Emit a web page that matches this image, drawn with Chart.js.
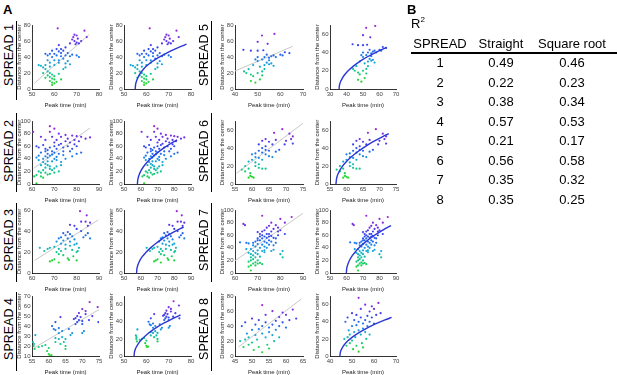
<!DOCTYPE html>
<html>
<head>
<meta charset="utf-8">
<script src="https://cdn.jsdelivr.net/npm/chart.js@4.4.0/dist/chart.umd.min.js"></script>
<style>
  body { margin:0; background:#fff; width:617px; height:375px; position:relative; overflow:hidden;
         font-family:"Liberation Sans", Arial, sans-serif; color:#000; }
  canvas { position:absolute; }
  .t { position:absolute; white-space:nowrap; line-height:1; }
  .rot { position:absolute; white-space:nowrap; line-height:1; font-size:12.5px;
         transform:translate(-50%,-50%) rotate(-90deg); }
  .bar { position:absolute; width:1.5px; background:#000; }
  .cell { position:absolute; width:80px; margin-left:-40px; text-align:center; font-size:13px;
          line-height:1; transform:translateY(-50%); }
</style>
</head>
<body>
<script>
// ---- table (panel B) ----
const tableSpread = [1, 2, 3, 4, 5, 6, 7, 8];
const r2Straight = ['0.49', '0.22', '0.38', '0.57', '0.21', '0.56', '0.35', '0.35'];
const r2Sqrt     = ['0.46', '0.23', '0.34', '0.53', '0.17', '0.58', '0.32', '0.25'];

// ---- scatter data, one list per SPREAD: [peak time (min), distance from the center] ----
const s1 = [[53,30],[54,29],[55,27],[55,20],[56,44],[56,30],[56,25],[56,14],[57,42],[57,36],[57,22],[57,17],
  [58,44],[58,33],[58,28],[58,20],[58,15],[58,10],[59,40],[59,48],[59,18],[59,13],[59,8],[59,5],[60,44],[60,36],
  [60,30],[60,16],[60,12],[60,7],[61,42],[61,50],[61,9],[61.5,76],[62,55],[62,47],[62,36],[62,33],[62,19],[63,50],
  [63,45],[63,41],[63,12],[64,48],[64,38],[64,25],[65,52],[65,42],[65,32],[65,27],[66,45],[66,35],[67,41],[67,31],
  [67,57],[68,43],[68,62],[68.5,65],[69,68],[69,60],[69.5,56],[70,67],[70,58],[70,42],[70.5,63],[71,57],[71,40],
  [72,60],[73.5,73],[74.5,65]];
const s2 = [[60.5,83],[61,12],[62,1],[62,60],[62,42],[62,14],[63,58],[63,45],[63,38],[63,20],[64,75],[64,50],[64,30],
  [64,18],[64,12],[65,62],[65,40],[65,35],[65,22],[65,10],[66,70],[66,56],[66,52],[66,44],[66,32],[66,26],[66,18],
  [67,54],[67,48],[67,42],[67,36],[67,30],[67,15],[68,92],[68,83],[68,58],[68,45],[68,28],[68,24],[68,16],[69,75],
  [69,52],[69,47],[69,36],[69,22],[70,88],[70,66],[70,60],[70,50],[70,40],[70,25],[70,18],[71,70],[71,56],[71,43],
  [71,38],[71,28],[72,80],[72,62],[72,48],[72,20],[73,75],[73,64],[73,35],[73,30],[74,58],[74,52],[74,46],[75,78],
  [75,68],[75,40],[76,72],[76,60],[77,66],[77,52],[78,77],[78,56],[78,44],[79,70],[79,63],[80,76],[80,60],[80,48],
  [81,68],[82,75],[82,50],[84,72],[86,74]];
const s3 = [[63.5,24],[65.5,21],[67,23],[68,11],[68,24],[69,12],[70,25],[70,13],[71,20],[71,30],[72,10],[72,23],
  [72,33],[72,18],[73,21],[73,34],[73,28],[74,38],[74,31],[74,17],[75,36],[75,23],[75,27],[76,39],[76,33],[76,14],
  [76.5,12.5],[77,37],[77,46],[77,30],[77,26],[78,35],[78,22],[78.5,16],[79,32],[79,27],[79,45],[80,42],[80,28],
  [80,20],[80,12],[80.5,21],[81,24],[81.5,59],[82,49],[82,40],[83,34],[84,49],[84,36],[84.5,55],[85,45],[85,38],
  [86,48],[86,33]];
const s4 = [[55.3,24],[55.5,20],[55.8,17],[55.6,22],[56,31],[57,19],[58,20],[59,21],[59.5,15],[60,12],[60.3,10.5],
  [60.8,11],[60,18],[61,40],[61.5,37],[62,44],[62,36],[62,28],[62,24],[63,38],[63,33],[63,27],[63.5,49],[63.5,22],
  [64,35],[64,29],[64.5,24],[65,27],[65,20],[65,17],[66,37],[66.5,31],[67,33],[67.5,47],[68,48],[68,42],[68.5,50],
  [68.5,44],[69,53],[69,46],[69.5,49],[70,57],[70,45],[70,42],[70,33],[70.5,35],[71,55],[71,52],[72,46],[72.2,64],
  [73,50],[74.6,59],[74.8,44]];
const s5 = [[43.7,49],[44,22],[45,20],[46,25],[47,48],[47,18],[47,10],[48,30],[48,16],[49,37],[49,8],[50,59],[50,48],
  [50,40],[50,35],[50,20],[51,28],[51,12],[51.9,67],[52,37],[52,22],[52.5,48.5],[52,17],[53,40],[53,30],[53,25],
  [54,43],[54,33],[54.4,56.6],[55,39],[55,36],[55,31],[56,41],[56,32],[57,42],[57,29],[57.4,69],[58,40],[60,43],
  [61,42],[62,46],[64,45]];
const s6 = [[57,16],[58,20],[58,14],[59,25],[59,17],[59,7],[59.5,12],[59.5,9],[60,33],[60,27],[60,8],[60.5,7],
  [61,34],[61,30],[61,24],[61,20],[62,44],[62,37],[62,29],[62,22],[62,18],[63,48],[63,40],[63,35],[63,27],[63,17],
  [64,50],[64,42],[64,38],[64,33],[64,17],[65,47],[65,37],[65,31],[66,44],[66,30],[66.5,57],[67,49],[67,36],[68,38],
  [68.9,61],[69.6,44],[70,48],[71,56],[71.5,50],[72,53],[72,45]];
const s7 = [[62.2,48.7],[63.7,78],[64.4,76],[65,48],[65,38],[66,47],[66,32],[66,18],[66,10],[67,38],[67,30],[67,25],
  [67,20],[67,12],[67,4],[68,48],[68,44],[68,35],[68,28],[68,22],[68,15],[69,50],[69,42],[69,32],[69,25],[69,17],
  [69,12],[70,65],[70,55],[70,52],[70,46],[70,36],[70,30],[70,20],[70,15],[71,62],[71,58],[71,52],[71,40],[71,26],
  [71,16],[72,91],[72,66],[72,60],[72,55],[72,45],[72,35],[72,14],[73,68],[73,58],[73,50],[73,42],[73,36],[73,33],
  [74,72],[74,62],[74,56],[74,48],[74,40],[75,75],[75,62],[75,58],[75,52],[75,45],[76,80],[76,66],[76,59],[76,50],
  [76,35],[77,70],[77,56],[77,44],[77,37],[78,76],[78,55],[78,48],[79,72],[79,66],[79,60],[80,86],[80,68],[80,30],
  [81,35],[81,25],[82,80],[82,62],[85,89]];
const s8 = [[46.5,20],[47,40],[47.5,12],[48,45],[48,22],[48.5,30],[49,25],[49,15],[50,50],[50,35],[50,18],[50.5,8],
  [51,42],[51,28],[51.5,22],[52,48],[52,36],[52,12],[53,68],[53,40],[53,30],[53,5],[54,55],[54,45],[54,25],[54.5,15],
  [55,38],[55,32],[55,10],[56,60],[56,42],[56,28],[56.5,20],[57,47],[57,35],[58,52],[58,40],[58,25],[59,58],[59,45],
  [60,55],[60,38],[61,48],[62,62],[63,50]];
const spreadPoints = [s1, s2, s3, s4, s5, s6, s7, s8];

// straight fits (left panels): end points
const straightFits = [
  [[51,7],[75.5,68]], [[60.8,25],[86,89]], [[61.2,12],[89.6,50.5]], [[55.3,17.5],[75.5,57.5]],
  [[40,22.5],[65.5,53.5]], [[55.5,12],[75.5,69]], [[60,19.5],[90,95]], [[46,12],[64.5,76]]];

// square-root fits (right panels): points
const sqrtFits = [
  [[55,0],[55.2,5.8],[55.5,9.1],[56,12.9],[57,18.2],[58.5,24.1],[60.2,29],[62.5,34.1],[65,38.6],[68,43.3],[71,47.6],[74,51.5],[77,55],[78,56.2]],
  [[58,0],[58.2,6.4],[58.5,10],[59,14.4],[60,20.4],[61.5,27],[63.5,33.8],[66,40.7],[69,47.8],[72,53.9],[75,59.4],[78,64.4],[81.7,70]],
  [[57.5,0],[57.7,4],[58,6],[58.5,8.5],[59.5,12],[61,15.8],[63,19.5],[66,24.2],[69,28.2],[72,31.6],[75,34.8],[78,37.6],[81,40.2],[84,42.6],[85.6,43.8]],
  [[54.5,0],[54.7,4.7],[55,7.4],[55.5,10.5],[56.5,14.8],[58,19.6],[60,24.6],[62.5,29.7],[65,34],[68,38.6],[71,42.6],[73.5,45.8],[75.3,47.9]],
  [[35.5,0],[35.7,3.8],[36,6],[36.5,8.5],[37.5,12],[39,15.9],[41,19.9],[44,24.8],[47,28.8],[50,32.4],[53,35.6],[56,38.5],[59,41.2],[62,43.8],[64,45.4]],
  [[56.8,0],[57,6.3],[57.3,9.9],[57.8,14],[58.8,19.8],[60,25],[61.5,30.3],[63.5,36.2],[66,42.5],[68.5,47.9],[71,52.8],[72.8,56]],
  [[59.9,0],[60.1,6.5],[60.4,10.3],[61,15.2],[62,21],[63.5,27.5],[65.5,34.3],[68,41.3],[71,48.3],[74,54.4],[77,60],[80,65],[83,69.7],[86,74.1],[87,75.5]],
  [[44.5,0],[44.7,4.2],[45,6.6],[45.5,9.3],[46.5,13.2],[48,17.4],[50,21.8],[53,27.1],[56,31.5],[59,35.4],[62,38.9],[65,42.1],[68,45.1]]];

// axis ticks
const xTicksLeft  = [[50,60,70,80],[60,70,80,90],[60,70,80,90],[55,60,65,70,75],[40,50,60,70],[55,60,65,70,75],[60,70,80,90],[45,50,55,60,65]];
const yTicksLeft  = [[0,20,40,60,80],[0,20,40,60,80,100],[0,20,40,60],[10,20,30,40,50,60,70],[0,20,40,60,80],[0,20,40,60],[0,20,40,60,80,100],[0,20,40,60,80]];
const yMaxLeft    = [80,100,60,70,80,70,100,80];
const xTicksRight = [[50,60,70,80],[50,60,70,80,90],[50,60,70,80,90],[50,60,70,80],[30,40,50,60,70],[55,60,65,70,75],[50,60,70,80,90],[40,50,60,70]];
const yTicksRight = [[0,20,40,60,80],[0,20,40,60,80,100],[0,20,40,60],[0,20,40,60],[0,20,40,60],[0,20,40,60],[0,20,40,60,80,100],[0,20,40,60]];
const yMaxRight   = [80,100,60,70,70,70,100,70];

// ---- layout ----
const rowTops = [25, 121, 210, 296], rowBottoms = [89, 184, 273, 356];
const plotCols = [[[32,99],[124,191]], [[235,303],[330,396]]];
const AXW = 19, AXH = 20, PADT = 5, PADR = 6;

Chart.defaults.font.family = '"Liberation Sans", Arial, sans-serif';
Chart.defaults.color = '#444';

const cmap = [[0,[40,215,40]],[0.2,[20,200,140]],[0.35,[20,170,215]],[0.5,[30,120,240]],
              [0.65,[50,70,235]],[0.8,[110,50,230]],[1,[160,40,220]]];
function colourFor(t) {
  t = Math.max(0, Math.min(1, t));
  for (let k = 1; k < cmap.length; k++) {
    if (t <= cmap[k][0]) {
      const [t0, c0] = cmap[k-1], [t1, c1] = cmap[k];
      const f = (t - t0) / (t1 - t0);
      return 'rgb(' + c0.map((v, j) => Math.round(v + (c1[j] - v) * f)).join(',') + ')';
    }
  }
  return 'rgb(160,40,220)';
}

function el(cls, html, css) {
  const d = document.createElement('div');
  d.className = cls; d.innerHTML = html;
  Object.assign(d.style, css);
  document.body.appendChild(d);
  return d;
}

function addPanel(i, side) {
  const col = Math.floor(i / 4), row = i % 4;
  const [L, R] = plotCols[col][side];
  const T = rowTops[row], B = rowBottoms[row];
  const cv = document.createElement('canvas');
  cv.width = R - L + AXW + PADR;
  cv.height = B - T + PADT + AXH;
  cv.style.left = (L - AXW) + 'px';
  cv.style.top = (T - PADT) + 'px';
  document.body.appendChild(cv);

  const pts = spreadPoints[i];
  const ys = pts.map(p => p[1]);
  const lo = Math.min(...ys), hi = Math.max(...ys);
  const xt = side ? xTicksRight[i] : xTicksLeft[i];
  const yt = side ? yTicksRight[i] : yTicksLeft[i];
  const fit = side ? sqrtFits[i] : straightFits[i];

  new Chart(cv, {
    type: 'scatter',
    data: {
      datasets: [
        {
          data: fit.map(p => ({x: p[0], y: p[1]})),
          showLine: true, pointRadius: 0, order: side ? 0 : 2,
          borderColor: side ? '#2a36d6' : '#c8c8c8', borderWidth: side ? 1.4 : 1,
          cubicInterpolationMode: 'monotone'
        },
        {
          data: pts.map(p => ({x: p[0], y: p[1]})),
          pointRadius: 1.1, borderWidth: 0, order: 1,
          backgroundColor: pts.map(p => colourFor((p[1] - lo) / (hi - lo)))
        }
      ]
    },
    options: {
      responsive: false, animation: false, events: [],
      layout: { padding: { left: 0, top: PADT, right: PADR, bottom: 0 } },
      plugins: { legend: { display: false }, tooltip: { enabled: false } },
      scales: {
        x: {
          type: 'linear', min: xt[0], max: xt[xt.length - 1],
          grid: { display: false, drawTicks: false },
          border: { display: true, color: '#000', width: 0.8 },
          ticks: { font: { size: 6 }, padding: 2, maxRotation: 0, autoSkip: false },
          afterBuildTicks: s => { s.ticks = xt.map(v => ({ value: v })); },
          afterFit: s => { s.height = AXH; },
          title: { display: true, text: 'Peak time (min)', font: { size: 6 }, color: '#222', padding: { top: 1, bottom: 0 } }
        },
        y: {
          type: 'linear', min: yt[0], max: side ? yMaxRight[i] : yMaxLeft[i],
          grid: { display: false, drawTicks: false },
          border: { display: true, color: '#000', width: 0.8 },
          ticks: { font: { size: 6 }, padding: 1.5, autoSkip: false },
          afterBuildTicks: s => { s.ticks = yt.map(v => ({ value: v })); },
          afterFit: s => { s.width = AXW; },
          title: { display: true, text: 'Distance from the center', font: { size: 6 }, color: '#222', padding: { top: 2.5, bottom: 0 } }
        }
      }
    }
  });
}

// SPREAD labels and separators
const labelCx = [9, 204], barX = [15.5, 210.5];
const labelCy = [55, 151, 240, 329];
const barTop = [21, 113, 203, 292];
tableSpread.forEach((n, i) => {
  const col = Math.floor(i / 4), row = i % 4;
  el('rot', 'SPREAD ' + n, { left: labelCx[col] + 'px', top: labelCy[row] + 'px' });
  el('bar', '', { left: barX[col] + 'px', top: barTop[row] + 'px', height: '79px' });
  addPanel(i, 0);
  addPanel(i, 1);
});

// panel letters
el('t', 'A', { left: '3px', top: '3px', fontSize: '13px', fontWeight: 'bold' });
el('t', 'B', { left: '407px', top: '3px', fontSize: '13px', fontWeight: 'bold' });

// table B
el('t', 'R<sup style="font-size:8px;vertical-align:6px">2</sup>', { left: '411px', top: '16px', fontSize: '13px' });
const colCx = [440, 501, 572];
['SPREAD', 'Straight', 'Square root'].forEach((h, k) =>
  el('cell', h, { left: colCx[k] + 'px', top: '43px' }));
el('bar', '', { left: '411px', top: '52px', width: '206px', height: '1.5px' });
tableSpread.forEach((n, r) => {
  const y = 62 + r * 19.5;
  el('cell', String(n), { left: colCx[0] + 'px', top: y + 'px' });
  el('cell', r2Straight[r], { left: colCx[1] + 'px', top: y + 'px' });
  el('cell', r2Sqrt[r], { left: colCx[2] + 'px', top: y + 'px' });
});
</script>
</body>
</html>
